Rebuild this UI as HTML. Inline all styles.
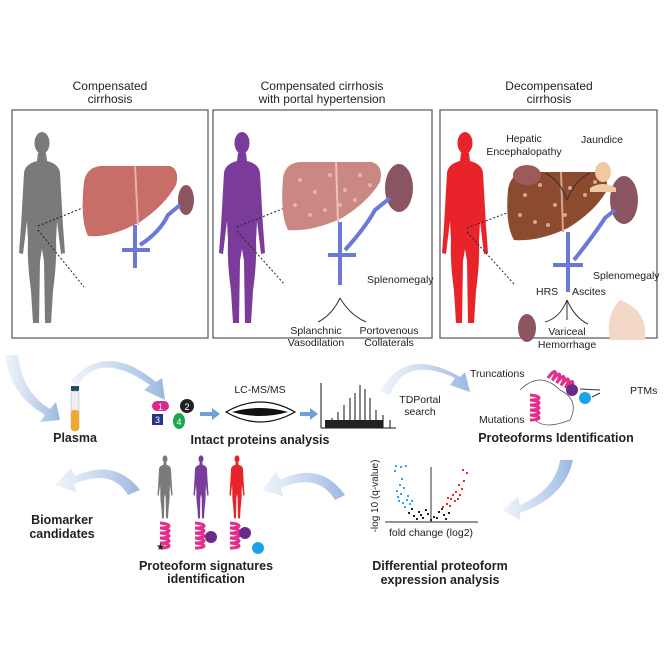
<!DOCTYPE html>
<html><head><meta charset="utf-8"><style>
html,body{margin:0;padding:0;background:#fff}
svg{display:block}
text{font-family:"Liberation Sans",sans-serif;fill:#222}
.t{font-size:12px;text-anchor:middle}
.s{font-size:10.5px}
.b{font-size:12.5px;font-weight:bold;text-anchor:middle}
</style></head><body>
<svg width="664" height="664" viewBox="0 0 664 664" xmlns="http://www.w3.org/2000/svg">
<defs>
<g id="p">
<ellipse cx="0" cy="12" rx="7.5" ry="11"/>
<path d="M -4 22 L 4 22 L 5 30 Q 17 33 18 42 L 21 95 L 23 122 L 19 123 L 15 90 L 14 110 Q 15 130 11 160 L 9 192 L 3 192 L 2 130 L 0 118 L -2 130 L -3 192 L -9 192 L -11 160 Q -15 130 -14 110 L -15 90 L -19 123 L -23 122 L -21 95 L -18 42 Q -17 33 -5 30 Z"/>
</g>
<linearGradient id="ag" x1="0" y1="0" x2="1" y2="0"><stop offset="0" stop-color="#a9c4e6" stop-opacity="0.2"/><stop offset="1" stop-color="#8fb0de"/></linearGradient>
<g id="hx"><path d="M0 0 c12 1 12 5 0 5 c12 1 12 5 0 5 c12 1 12 5 0 5 c12 1 12 5 0 5 c12 1 12 5 0 5" fill="none" stroke="#e0308c" stroke-width="3"/></g>
</defs>

<text class="t" x="110" y="90">Compensated</text><text class="t" x="110" y="103">cirrhosis</text>
<text class="t" x="322" y="90">Compensated cirrhosis</text><text class="t" x="322" y="103">with portal hypertension</text>
<text class="t" x="549" y="90">Decompensated</text><text class="t" x="549" y="103">cirrhosis</text>

<rect x="12" y="110" width="196" height="228" fill="none" stroke="#555" stroke-width="1.2"/>
<rect x="213" y="110" width="219" height="228" fill="none" stroke="#555" stroke-width="1.2"/>
<rect x="440" y="110" width="217" height="228" fill="none" stroke="#555" stroke-width="1.2"/>

<use href="#p" transform="translate(42,131)" fill="#7a7a7a"/>
<use href="#p" transform="translate(242,131)" fill="#7a3b9a"/>
<use href="#p" transform="translate(465,131)" fill="#e8232a"/>

<g stroke="#222" stroke-dasharray="2,2" stroke-width="1">
<line x1="38" y1="226" x2="90" y2="205"/><line x1="38" y1="230" x2="84" y2="287"/>
<line x1="237" y1="227" x2="292" y2="205"/><line x1="237" y1="231" x2="285" y2="285"/>
<line x1="467" y1="228" x2="520" y2="208"/><line x1="467" y1="232" x2="514" y2="284"/>
</g>

<path d="M84 182 Q86 168 100 166 L170 166 Q180 170 176 185 Q165 205 140 222 Q110 238 88 236 Q80 220 84 182Z" fill="#c76e68"/>
<line x1="135" y1="166" x2="138" y2="225" stroke="#e8b0a8" stroke-width="2"/>
<path d="M283 178 Q285 163 300 162 L372 162 Q384 166 380 182 Q368 202 342 218 Q312 232 288 230 Q280 215 283 178Z" fill="#c98882"/>
<line x1="336" y1="162" x2="338" y2="222" stroke="#efc0b8" stroke-width="2"/>
<path d="M508 190 Q510 174 525 172 L598 172 Q610 176 606 192 Q594 212 568 228 Q538 242 514 240 Q505 225 508 190Z" fill="#8c4a2e"/>
<line x1="561" y1="172" x2="563" y2="232" stroke="#d9a38f" stroke-width="2"/>
<g fill="#f1c2bb" opacity="0.75">
<circle cx="300" cy="180" r="2"/><circle cx="315" cy="192" r="2"/><circle cx="330" cy="175" r="2"/><circle cx="345" cy="190" r="2"/><circle cx="360" cy="175" r="2"/><circle cx="310" cy="215" r="2"/><circle cx="340" cy="205" r="2"/><circle cx="370" cy="185" r="2"/><circle cx="295" cy="205" r="2"/><circle cx="325" cy="210" r="2"/><circle cx="355" cy="200" r="2"/>
<circle cx="525" cy="195" r="2"/><circle cx="540" cy="185" r="2"/><circle cx="555" cy="205" r="2"/><circle cx="570" cy="188" r="2"/><circle cx="585" cy="195" r="2"/><circle cx="535" cy="222" r="2"/><circle cx="565" cy="215" r="2"/><circle cx="595" cy="182" r="2"/><circle cx="520" cy="215" r="2"/><circle cx="548" cy="225" r="2"/>
</g>
<ellipse cx="186" cy="200" rx="8" ry="15" fill="#8a5460"/>
<ellipse cx="399" cy="188" rx="14" ry="24" fill="#8a5460"/>
<ellipse cx="624" cy="200" rx="14" ry="24" fill="#8a5460"/>
<g stroke="#6a78d8" stroke-width="4" fill="none">
<path d="M135 225 L135 268 M122 250 L150 250 M140 245 Q160 232 168 215 L180 205"/>
<path d="M340 222 L340 285 M328 255 L356 255 M345 250 Q365 228 375 210 L390 198"/>
<path d="M568 232 L568 292 M553 265 L583 265 M574 260 Q594 235 605 218 L615 210"/>
</g>

<text class="s" x="367" y="283">Splenomegaly</text>
<path d="M340 298 Q332 315 318 322 M340 298 Q350 315 366 322" stroke="#333" fill="none"/>
<text class="s" x="316" y="334" text-anchor="middle">Splanchnic</text><text class="s" x="316" y="346" text-anchor="middle">Vasodilation</text>
<text class="s" x="389" y="334" text-anchor="middle">Portovenous</text><text class="s" x="389" y="346" text-anchor="middle">Collaterals</text>

<text class="s" x="524" y="142" text-anchor="middle">Hepatic</text><text class="s" x="524" y="155" text-anchor="middle">Encephalopathy</text>
<text class="s" x="602" y="143" text-anchor="middle">Jaundice</text>
<ellipse cx="527" cy="175" rx="14" ry="10" fill="#9e5a5a"/>
<ellipse cx="603" cy="172" rx="8" ry="10" fill="#f0c9a0"/><path d="M590 188 Q603 180 616 188 L616 192 L590 192Z" fill="#f0c9a0"/>
<path d="M567 200 Q560 180 545 173 M567 200 Q575 180 590 173" stroke="#333" fill="none"/>
<text class="s" x="593" y="279">Splenomegaly</text>
<text class="s" x="536" y="295">HRS</text><text class="s" x="572" y="295">Ascites</text>
<path d="M567 300 Q560 318 545 322 M567 300 L567 320 M567 300 Q575 318 588 324" stroke="#333" fill="none"/>
<ellipse cx="527" cy="328" rx="9" ry="14" fill="#8a5460"/>
<path d="M620 300 Q648 310 645 340 L610 340 Q605 315 620 300Z" fill="#f3d8c8"/>
<text class="s" x="567" y="335" text-anchor="middle">Variceal</text><text class="s" x="567" y="348" text-anchor="middle">Hemorrhage</text>

<g fill="url(#ag)" opacity="0.9">
<path d="M5 355 Q10 395 45 415 L40 422 L60 420 L56 402 L50 409 Q22 392 18 355Z"/>
<path d="M78 385 Q100 350 150 385 L144 390 L165 400 L162 378 L156 382 Q105 340 70 382Z"/>
<path d="M390 395 Q405 355 455 378 L450 385 L470 392 L465 372 L460 377 Q405 345 380 392Z"/>
<path d="M560 460 Q555 490 520 505 L518 497 L502 510 L520 520 L520 513 Q565 497 573 460Z"/>
<path d="M345 495 Q320 460 280 480 L276 472 L262 490 L283 496 L281 488 Q318 472 335 500Z"/>
<path d="M140 490 Q115 458 75 476 L71 468 L55 485 L76 492 L74 484 Q112 468 128 495Z"/>
</g>

<rect x="71" y="386" width="8" height="5" fill="#1e4d6e"/>
<rect x="71" y="391" width="8" height="40" rx="3" fill="#eee" stroke="#aaa" stroke-width="0.5"/>
<rect x="71" y="410" width="8" height="21" rx="3" fill="#f0a830"/>
<text class="b" x="75" y="442">Plasma</text>

<rect x="152" y="401" width="17" height="10" rx="5" fill="#e0258a"/><text x="160.5" y="410" font-size="9" text-anchor="middle" style="fill:#fff">1</text>
<circle cx="187" cy="406" r="7" fill="#222"/><text x="187" y="410" font-size="9" text-anchor="middle" style="fill:#fff">2</text>
<rect x="152" y="414" width="11" height="11" fill="#2a3388"/><text x="157.5" y="423" font-size="9" text-anchor="middle" style="fill:#fff">3</text>
<ellipse cx="179" cy="421" rx="6" ry="8" fill="#1aa84f"/><text x="179" y="425" font-size="9" text-anchor="middle" style="fill:#fff">4</text>
<path d="M200 412 L212 412 L212 408 L220 414 L212 420 L212 416 L200 416Z" fill="#6fa0d8"/>
<path d="M300 412 L310 412 L310 408 L318 414 L310 420 L310 416 L300 416Z" fill="#6fa0d8"/>
<text class="s" x="260" y="393" text-anchor="middle" font-size="10">LC-MS/MS</text>
<path d="M226 412 Q260 392 295 412 Q260 432 226 412Z" fill="none" stroke="#111" stroke-width="1.2"/>
<path d="M232 412 Q260 404 288 412 Q260 420 232 412Z" fill="#111"/>
<g stroke="#111" stroke-width="1">
<line x1="321" y1="383" x2="321" y2="428"/><line x1="321" y1="428" x2="396" y2="428"/>
<line x1="332" y1="428" x2="332" y2="418"/><line x1="338" y1="428" x2="338" y2="412"/><line x1="344" y1="428" x2="344" y2="405"/><line x1="350" y1="428" x2="350" y2="398"/><line x1="355" y1="428" x2="355" y2="393"/><line x1="360" y1="428" x2="360" y2="385"/><line x1="365" y1="428" x2="365" y2="389"/><line x1="370" y1="428" x2="370" y2="398"/><line x1="376" y1="428" x2="376" y2="410"/><line x1="383" y1="428" x2="383" y2="415"/><line x1="390" y1="428" x2="390" y2="420"/>
</g>
<rect x="325" y="420" width="58" height="8" fill="#222"/>
<text class="b" x="260" y="444">Intact proteins analysis</text>

<text class="s" x="420" y="403" text-anchor="middle" font-size="10">TDPortal</text><text class="s" x="420" y="415" text-anchor="middle" font-size="10">search</text>
<text class="s" x="470" y="377" font-size="10">Truncations</text>
<text class="s" x="630" y="394" font-size="10">PTMs</text>
<text class="s" x="479" y="423" font-size="10">Mutations</text>
<path d="M520 390 Q540 370 560 390 Q580 400 570 420 Q545 430 535 420" fill="none" stroke="#555" stroke-width="0.8"/>
<use href="#hx" transform="translate(548,378) rotate(-60)"/>
<use href="#hx" transform="translate(530,395)"/>
<circle cx="572" cy="390" r="6" fill="#6a2a8c"/><circle cx="585" cy="398" r="6" fill="#1aa3e8"/>
<line x1="600" y1="390" x2="580" y2="389" stroke="#333"/><line x1="600" y1="393" x2="592" y2="397" stroke="#333"/>
<text class="b" x="556" y="442">Proteoforms Identification</text>

<use href="#p" transform="translate(165,455) scale(0.33)" fill="#7a7a7a"/>
<use href="#p" transform="translate(201,455) scale(0.33)" fill="#7a3b9a"/>
<use href="#p" transform="translate(237,455) scale(0.33)" fill="#e8232a"/>
<use href="#hx" transform="translate(160,523)"/>
<use href="#hx" transform="translate(195,523)"/>
<use href="#hx" transform="translate(230,523)"/>
<circle cx="211" cy="537" r="6" fill="#6a2a8c"/>
<circle cx="245" cy="533" r="6" fill="#6a2a8c"/><circle cx="258" cy="548" r="6" fill="#1aa3e8"/>
<text x="156" y="550" font-size="10">★</text>
<text class="b" x="206" y="570">Proteoform signatures</text><text class="b" x="206" y="583">identification</text>
<text class="b" x="62" y="524">Biomarker</text><text class="b" x="62" y="538">candidates</text>

<line x1="385" y1="522" x2="478" y2="522" stroke="#555" stroke-width="1.2"/>
<line x1="431" y1="467" x2="431" y2="522" stroke="#555" stroke-width="1.2"/>
<text x="378" y="496" font-size="10" text-anchor="middle" transform="rotate(-90 378 496)">-log 10 (q-value)</text>
<text x="431" y="536" font-size="10.5" text-anchor="middle">fold change (log2)</text>
<g fill="#29a8e8">
<rect x="395" y="465" width="2" height="2"/><rect x="400" y="466" width="2" height="2"/><rect x="405" y="465" width="2" height="2"/><rect x="396" y="490" width="2" height="2"/><rect x="400" y="493" width="2" height="2"/><rect x="403" y="487" width="2" height="2"/><rect x="398" y="500" width="2" height="2"/><rect x="402" y="502" width="2" height="2"/><rect x="406" y="499" width="2" height="2"/><rect x="409" y="503" width="2" height="2"/><rect x="404" y="506" width="2" height="2"/><rect x="401" y="478" width="2" height="2"/><rect x="394" y="470" width="2" height="2"/><rect x="397" y="496" width="2" height="2"/><rect x="407" y="495" width="2" height="2"/><rect x="411" y="500" width="2" height="2"/><rect x="399" y="484" width="2" height="2"/>
</g>
<g fill="#e8302a">
<rect x="462" y="469" width="2" height="2"/><rect x="466" y="472" width="2" height="2"/><rect x="458" y="484" width="2" height="2"/><rect x="455" y="491" width="2" height="2"/><rect x="450" y="498" width="2" height="2"/><rect x="446" y="503" width="2" height="2"/><rect x="454" y="500" width="2" height="2"/><rect x="442" y="506" width="2" height="2"/><rect x="459" y="494" width="2" height="2"/><rect x="449" y="505" width="2" height="2"/><rect x="461" y="488" width="2" height="2"/><rect x="452" y="494" width="2" height="2"/><rect x="457" y="498" width="2" height="2"/><rect x="447" y="497" width="2" height="2"/><rect x="463" y="480" width="2" height="2"/>
</g>
<g fill="#222">
<rect x="408" y="512" width="2" height="2"/><rect x="413" y="515" width="2" height="2"/><rect x="418" y="511" width="2" height="2"/><rect x="422" y="517" width="2" height="2"/><rect x="427" y="513" width="2" height="2"/><rect x="433" y="516" width="2" height="2"/><rect x="438" y="511" width="2" height="2"/><rect x="443" y="514" width="2" height="2"/><rect x="448" y="512" width="2" height="2"/><rect x="416" y="518" width="2" height="2"/><rect x="430" y="519" width="2" height="2"/><rect x="411" y="508" width="2" height="2"/><rect x="441" y="508" width="2" height="2"/><rect x="420" y="514" width="2" height="2"/><rect x="425" y="509" width="2" height="2"/><rect x="436" y="517" width="2" height="2"/><rect x="445" y="518" width="2" height="2"/>
</g>
<text class="b" x="440" y="570">Differential proteoform</text><text class="b" x="440" y="584">expression analysis</text>
</svg>
</body></html>
